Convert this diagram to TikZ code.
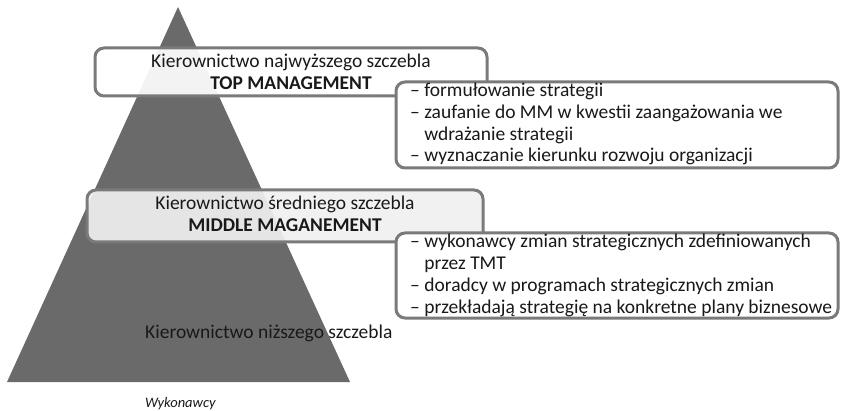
\documentclass[tikz,border=0pt]{standalone}
\usepackage{fontspec}
\setmainfont{Carlito}
\definecolor{pyramid}{RGB}{106,106,106}
\definecolor{frame}{RGB}{122,122,122}
\definecolor{midfill}{RGB}{240,240,240}
\tikzset{
    levelbox/.style={draw=frame, line width=3pt, rounded corners=9pt},
    listbox/.style={draw=frame, line width=3pt, rounded corners=9pt, fill=white},
    big/.style={inner sep=0, text=black!90, font=\fontsize{19.5}{21.7}\selectfont},
}
\begin{document}
\begin{tikzpicture}[x=1pt,y=-1pt]
\useasboundingbox (0,0) rectangle (842,411);
% pyramid
\fill[pyramid] (178,7) -- (350,382) -- (7,382) -- cycle;

% levels
\draw[levelbox, fill=white, fill opacity=.92] (95,48) rectangle (487,96);
\draw[levelbox, fill=midfill, fill opacity=.92] (87,190) rectangle (483,242);
\node[big, anchor=base] (topname) at (291,68) {Kierownictwo najwyższego szczebla};
\node[big, anchor=base, font=\fontsize{19.5}{21.7}\selectfont\bfseries] (topcode) at (291,90) {TOP MANAGEMENT};
\node[big, anchor=base] (midname) at (285,210) {Kierownictwo średniego szczebla};
\node[big, anchor=base, font=\fontsize{19.5}{21.7}\selectfont\bfseries] (midcode) at (285,232) {MIDDLE MAGANEMENT};
\node[big, anchor=base west] (lowname) at (145,338) {Kierownictwo niższego szczebla};
\node[anchor=base west, inner sep=0, text=black!90, font=\fontsize{14.5}{16}\selectfont\itshape] (workers) at (145,407) {Wykonawcy};

% tasks
\draw[listbox] (396,82) rectangle (838,168);
\foreach \t/\y [count=\i] in {
    {– formułowanie strategii}/97,
    {– zaufanie do MM w kwestii zaangażowania we}/118.7,
    {\hphantom{– }wdrażanie strategii}/140.3,
    {– wyznaczanie kierunku rozwoju organizacji}/162
}{
    \node[big, anchor=base west] (toptask\i) at (410,\y) {\t};
}
\draw[listbox] (396,233) rectangle (838,318);
\foreach \t/\y [count=\i] in {
    {– wykonawcy zmian strategicznych zdefiniowanych}/248,
    {\hphantom{– }przez TMT}/269.7,
    {– doradcy w programach strategicznych zmian}/291.3,
    {– przekładają strategię na konkretne plany biznesowe}/313
}{
    \node[big, anchor=base west] (midtask\i) at (410,\y) {\t};
}
\end{tikzpicture}
\end{document}
